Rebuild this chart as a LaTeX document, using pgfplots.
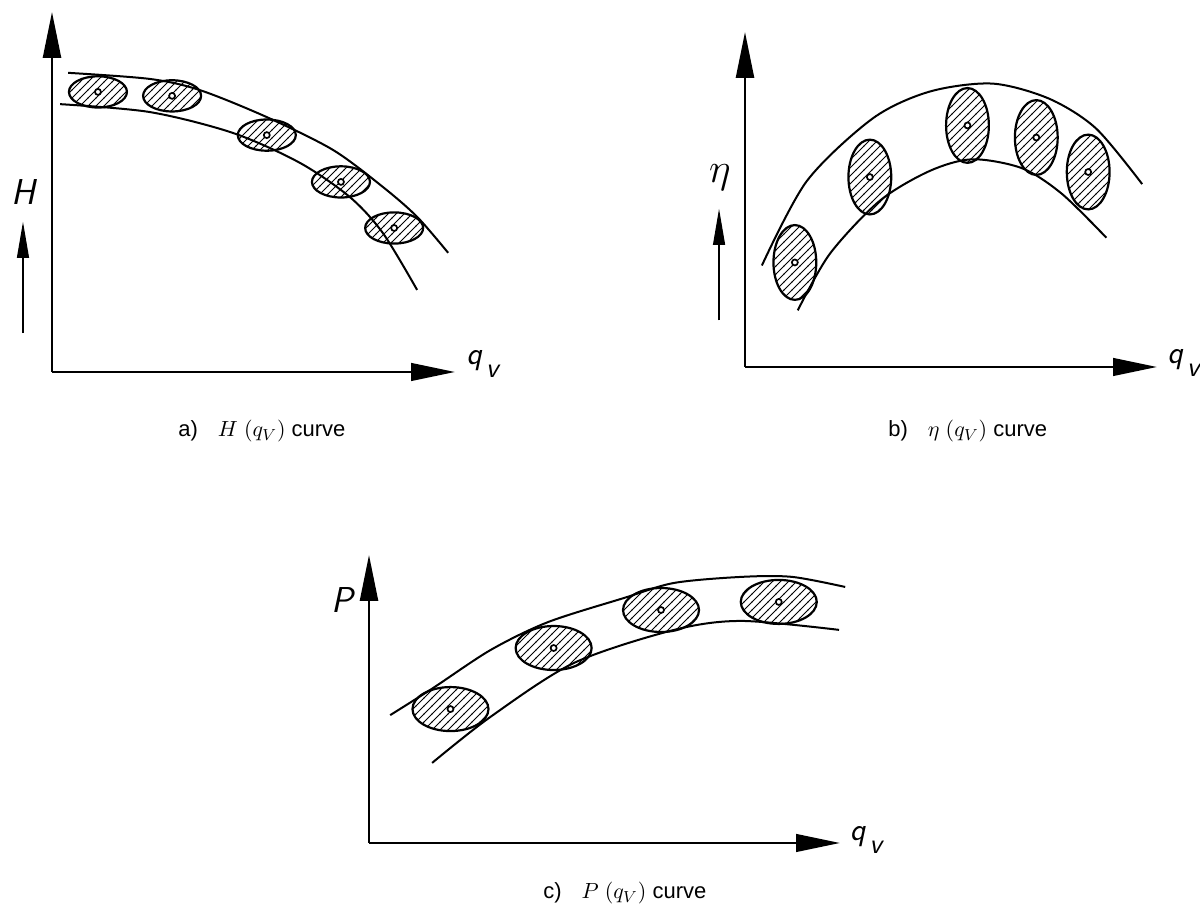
\documentclass[border=0pt]{standalone}
\usepackage{fontspec}
\setmainfont{Liberation Sans}
\usepackage{pgfplots}
\pgfplotsset{compat=1.18}
\usetikzlibrary{arrows.meta,patterns}

% diagonal hatching used inside the scatter ellipses
\pgfdeclarepatternformonly{hatch}{\pgfqpoint{-1pt}{-1pt}}{\pgfqpoint{5pt}{5pt}}{\pgfqpoint{4pt}{4pt}}{%
  \pgfsetlinewidth{0.5pt}%
  \pgfpathmoveto{\pgfqpoint{-0.1pt}{-0.1pt}}%
  \pgfpathlineto{\pgfqpoint{4.1pt}{4.1pt}}%
  \pgfusepath{stroke}}

% hatched scatter ellipse with the operating point in its centre
\newcommand\hatchedellipse[2]{%
  \pgfpathellipse{\pgfpointorigin}{\pgfqpoint{#1}{0pt}}{\pgfqpoint{0pt}{#2}}%
  \pgfsetfillpattern{hatch}{black}%
  \pgfusepath{fill}%
  \pgfpathellipse{\pgfpointorigin}{\pgfqpoint{#1}{0pt}}{\pgfqpoint{0pt}{#2}}%
  \pgfsetstrokecolor{black}%
  \pgfsetlinewidth{1.1pt}%
  \pgfusepath{stroke}%
  \pgfpathcircle{\pgfpointorigin}{1.5pt}%
  \pgfsetfillcolor{white}%
  \pgfsetlinewidth{0.85pt}%
  \pgfusepath{fill,stroke}}
\pgfdeclareplotmark{ellH}{\hatchedellipse{14.5pt}{7.8pt}}
\pgfdeclareplotmark{ellEta}{\hatchedellipse{10.7pt}{18.7pt}}
\pgfdeclareplotmark{ellP}{\hatchedellipse{19pt}{11pt}}

\pgfplotsset{
  band/.style={axis lines=left, scale only axis, clip=false,
    xmin=0, xmax=10, ymin=0, ymax=10, xtick=\empty, ytick=\empty,
    axis line style={line width=1.25pt, black},
    x axis line style={-{Triangle[length=22pt,width=8.8pt]}},
    y axis line style={-{Triangle[length=23pt,width=9pt]}},
    anchor=south west},
  bound/.style={black, line width=1pt, smooth, mark=none},
  pts/.style={black, only marks, mark=#1},
}
\newcommand\qv{{\fontsize{16}{16}\sffamily\slshape q\kern2pt\raisebox{-6.5pt}{\fontsize{14}{14}\selectfont v}}}
\newcommand\smallarrow{-{Triangle[length=18pt,width=6pt]}}

\begin{document}
\begin{tikzpicture}
\path[use as bounding box] (0,0) rectangle (600pt,457pt);

% a) head
\begin{axis}[band, at={(26pt,271pt)}, width=201.5pt, height=180pt]
\addplot[bound] coordinates {(0.40,8.31) (2.43,8.14) (3.67,7.83) (5.33,7.08) (6.97,6.17) (8.21,5.14) (9.06,4.31) (9.83,3.31)};
\addplot[bound] coordinates {(0.20,7.44) (2.43,7.22) (4.49,6.64) (6.15,5.81) (7.39,4.86) (8.21,3.86) (9.06,2.28)};
\addplot[pts=ellH] coordinates {(1.14,7.78) (2.98,7.67) (5.33,6.58) (7.17,5.28) (8.49,4.00)};
\node[anchor=base west, inner sep=0pt] at (axis description cs:1.027,0.02) {\qv};
\node[inner sep=0pt] at (axis description cs:-0.072,0.5) {\fontsize{18}{18}\sffamily\slshape H};
\draw[line width=0.55pt, \smallarrow] (axis description cs:-0.072,0.108) -- (axis description cs:-0.072,0.417);
\end{axis}

% b) efficiency
\begin{axis}[band, at={(372.5pt,273.5pt)}, width=206pt, height=167.5pt]
\addplot[bound] coordinates {(0.41,3.03) (1.50,5.55) (3.10,7.42) (4.48,8.22) (6.00,8.46) (7.38,8.01) (8.52,7.12) (9.64,5.46)};
\addplot[bound] coordinates {(1.28,1.69) (2.06,3.38) (3.27,4.96) (4.48,5.85) (5.52,6.20) (6.73,5.93) (7.70,5.16) (8.77,3.86)};
\addplot[pts=ellEta] coordinates {(1.21,3.12) (3.03,5.67) (5.40,7.21) (7.07,6.85) (8.33,5.82)};
\node[anchor=base west, inner sep=0pt] at (axis description cs:1.024,0.01) {\qv};
\node[inner sep=0pt] at (axis description cs:-0.061,0.564) {\fontsize{21}{21}\selectfont$\eta$};
\draw[line width=0.55pt, \smallarrow] (axis description cs:-0.063,0.139) -- (axis description cs:-0.063,0.472);
\end{axis}

% c) power
\begin{axis}[band, at={(184.5pt,35.5pt)}, width=235.5pt, height=144pt]
\addplot[bound] coordinates {(0.45,4.44) (1.36,5.38) (2.58,6.70) (3.80,7.67) (5.42,8.51) (6.48,9.03) (7.91,9.24) (8.98,9.24) (10.11,8.89)};
\addplot[bound] coordinates {(1.34,2.78) (2.58,4.38) (4.35,6.25) (6.48,7.40) (7.91,7.71) (9.98,7.40)};
\addplot[pts=ellP] coordinates {(1.73,4.65) (3.92,6.77) (6.20,8.09) (8.70,8.37)};
\node[anchor=base west, inner sep=0pt] at (axis description cs:1.02,0.01) {\qv};
\node[inner sep=0pt] at (axis description cs:-0.057,0.844) {\fontsize{18}{18}\sffamily\slshape P};
\end{axis}

% captions
\node[anchor=base west, inner sep=0pt, font=\fontsize{11}{11}\selectfont] at (89pt,238.5pt) {a)\hspace{10pt}$H\ (q_V)$ curve};
\node[anchor=base west, inner sep=0pt, font=\fontsize{11}{11}\selectfont] at (444pt,238.5pt) {b)\hspace{10pt}$\eta\ (q_V)$ curve};
\node[anchor=base west, inner sep=0pt, font=\fontsize{11}{11}\selectfont] at (271.5pt,7.5pt) {c)\hspace{10pt}$P\ (q_V)$ curve};
\end{tikzpicture}
\end{document}
